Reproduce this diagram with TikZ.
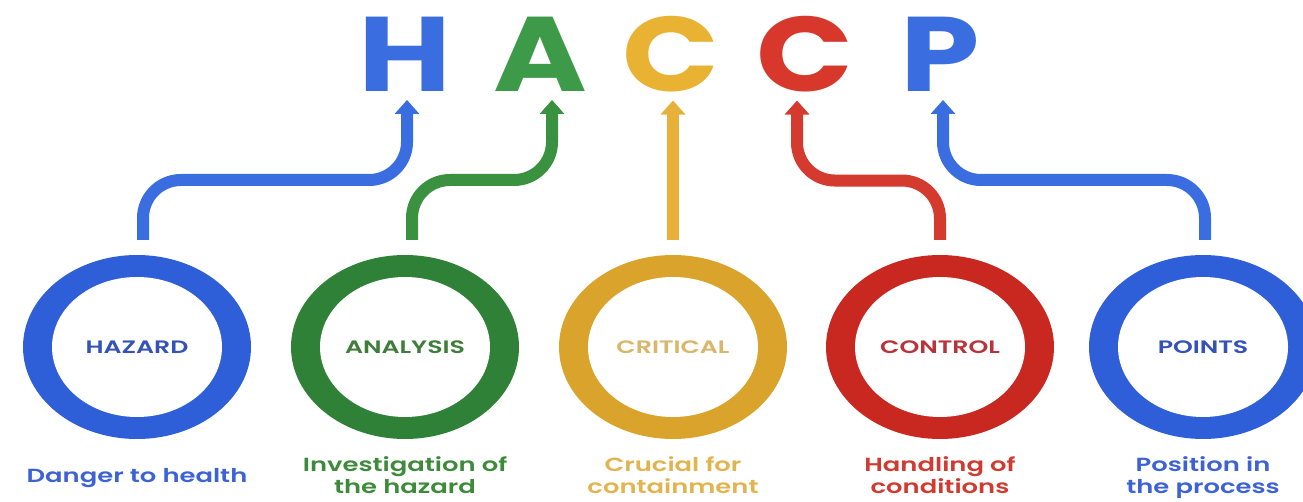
\documentclass[tikz,border=0pt]{standalone}
\usepackage{fontspec}
\setmainfont{Poppins}
\newfontfamily\psemi{Poppins SemiBold}
\usetikzlibrary{arrows.meta,shapes.geometric,calc}
\definecolor{blueT}{HTML}{3A6EE0}
\definecolor{greenT}{HTML}{3C9A48}
\definecolor{yellowT}{HTML}{E9B232}
\definecolor{redT}{HTML}{D8382C}
\definecolor{blueR}{HTML}{2E5FD8}
\definecolor{greenR}{HTML}{2F8137}
\definecolor{yellowR}{HTML}{DAA42C}
\definecolor{redR}{HTML}{C8281F}
\definecolor{blueA}{HTML}{3A6EE0}
\definecolor{greenA}{HTML}{3A9140}
\definecolor{yellowA}{HTML}{E7B03A}
\definecolor{redA}{HTML}{D43A2E}
\definecolor{blueL}{HTML}{3552B8}
\definecolor{greenL}{HTML}{3F7D3A}
\definecolor{yellowL}{HTML}{D9B66A}
\definecolor{redL}{HTML}{B8333A}
\definecolor{blueS}{HTML}{3D62D5}
\definecolor{greenS}{HTML}{3D8A3A}
\definecolor{yellowS}{HTML}{E2B450}
\definecolor{redS}{HTML}{D03A30}
\newcommand{\wx}[1]{\scalebox{1.2}[1]{#1}}
\newcommand{\wl}[1]{\scalebox{1.4}[1]{#1}}
\newcommand{\ws}[1]{\scalebox{1.36}[1]{#1}}
\begin{document}
\begin{tikzpicture}[x=1pt,y=-1pt,
  ring/.style 2 args={ellipse, fill=#1, text=#2,
    minimum width=228pt, minimum height=184pt, inner sep=0pt, outer sep=0pt,
    path picture={\fill[white] (path picture bounding box.center)
      ellipse [x radius=85pt, y radius=70pt];},
    font=\psemi\fontsize{18}{22}\selectfont},
  letter/.style={text=#1, font=\bfseries\fontsize{106}{106}\selectfont,
    inner sep=0pt, outer sep=0pt, anchor=base},
  conn/.style={draw=#1, line width=12pt, rounded corners=38pt,
    -{Triangle[width=24pt,length=14pt]}},
  sublab/.style={text=#1, font=\psemi\fontsize{19}{22}\selectfont, inner sep=0pt},
]
\useasboundingbox (0,0) rectangle (1303,502);

% title letters
\node[letter=blueT]   (H)  at (405,92) {\wx{H}};
\node[letter=greenT]  (A)  at (540,92) {\wx{A}};
\node[letter=yellowT] (C1) at (671,92) {\wx{C}};
\node[letter=redT]    (C2) at (805,92) {\wx{C}};
\node[letter=blueT]   (P)  at (940,92) {\wx{P}};

% rings
\node[ring={blueR}{blueL}]     (hz) at (137,347) {\wl{HAZARD}};
\node[ring={greenR}{greenL}]   (an) at (405,347) {\wl{ANALYSIS}};
\node[ring={yellowR}{yellowL}] (cr) at (673,347) {\wl{CRITICAL}};
\node[ring={redR}{redL}]       (co) at (940,347) {\wl{CONTROL}};
\node[ring={blueR}{blueL}]     (po) at (1203,347) {\wl{POINTS}};

% connectors
\draw[conn=blueA]   ($(hz.north)+(6,-15)$) |- ($(H.south)+(2,88)$) -- ($(H.south)+(2,8)$);
\draw[conn=greenA]  ($(an.north)+(7,-15)$) |- ($(A.south)+(12,88)$) -- ($(A.south)+(12,8)$);
\draw[conn=yellowA] ($(cr.north)+(0,-15)$) -- ($(C1.south)+(2,8)$);
\draw[conn=redA]    ($(co.north)+(0,-15)$) |- ($(C2.south)+(-8,88)$) -- ($(C2.south)+(-8,8)$);
\draw[conn=blueA]   ($(po.north)+(2,-15)$) |- ($(P.south)+(3,88)$) -- ($(P.south)+(3,8)$);

% sub labels
\node[sublab=blueS]   (d1) at (137,478) {\ws{Danger to health}};
\node[sublab=greenS]  (d2) at (405,478) {\ws{\begin{tabular}{@{}c@{}}Investigation of\\the hazard\end{tabular}}};
\node[sublab=yellowS] (d3) at (673,478) {\ws{\begin{tabular}{@{}c@{}}Crucial for\\containment\end{tabular}}};
\node[sublab=redS]    (d4) at (940,478) {\ws{\begin{tabular}{@{}c@{}}Handling of\\conditions\end{tabular}}};
\node[sublab=blueS]   (d5) at (1203,478) {\ws{\begin{tabular}{@{}c@{}}Position in\\the process\end{tabular}}};
\end{tikzpicture}
\end{document}
